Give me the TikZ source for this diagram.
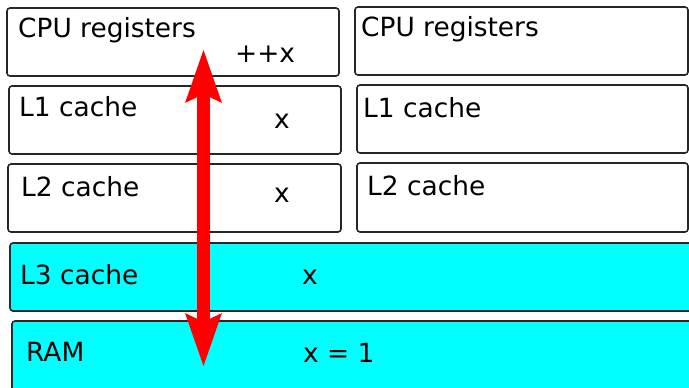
\documentclass[tikz,border=0pt]{standalone}
\usepackage{fontspec}
\setmainfont{DejaVu Sans}
\usetikzlibrary{arrows.meta}

\definecolor{aqua}{RGB}{0,255,255}

\tikzset{
  box/.style={draw=black!85, line width=1.6pt, rounded corners=3pt, outer sep=0pt,
    inner sep=0pt, anchor=north west, minimum width=#1},
  box/.default=332pt,
  lbl/.style={anchor=base west, inner sep=0pt, font=\fontsize{26.4}{31}\selectfont}
}

\begin{document}
\begin{tikzpicture}[x=1pt,y=-1pt]
  \useasboundingbox (0,0) rectangle (689,388);
  \clip (0,0) rectangle (689,388);

  % left column
  \node[box, minimum height=68pt] (cpuA) at (7,8) {};
  \node[box=332pt, minimum height=68pt] (l1A) at (9,86) {};
  \node[box=333pt, minimum height=68pt] (l2A) at (8,164) {};

  % right column
  \node[box=333pt, minimum height=68pt] (cpuB) at (355,7) {};
  \node[box=331pt, minimum height=68pt] (l1B) at (357,85) {};
  \node[box=331pt, minimum height=69pt] (l2B) at (357,163) {};

  % shared levels
  \node[box=720pt, minimum height=68pt, fill=aqua] (l3) at (10,243) {};
  \node[box=720pt, minimum height=80pt, fill=aqua] (ram) at (12,321) {};

  % labels
  \node[lbl] (cpuAt) at (18,37.5) {CPU registers};
  \node[lbl] (cpuAx) at (235,63) {++x};
  \node[lbl] (l1At) at (19,116) {L1 cache};
  \node[lbl] (l1Ax) at (274,128) {x};
  \node[lbl] (l2At) at (21,196.5) {L2 cache};
  \node[lbl] (l2Ax) at (274,202) {x};

  \node[lbl] (cpuBt) at (361,36.5) {CPU registers};
  \node[lbl] (l1Bt) at (363,117.5) {L1 cache};
  \node[lbl] (l2Bt) at (367,195) {L2 cache};

  \node[lbl] (l3t) at (20,284) {L3 cache};
  \node[lbl] (l3x) at (302,284.5) {x};
  \node[lbl] (ramt) at (26,361.5) {RAM};
  \node[lbl] (ramx) at (303,362.5) {x = 1};

  % access path through the hierarchy
  \coordinate (up) at (203.5,49);
  \coordinate (down) at (203.5,367);
  \draw[red, line width=13pt,
    {Stealth[length=52pt,width=34pt,inset=7pt]}-{Stealth[length=52pt,width=34pt,inset=7pt]}] (up) -- (down);
\end{tikzpicture}
\end{document}
